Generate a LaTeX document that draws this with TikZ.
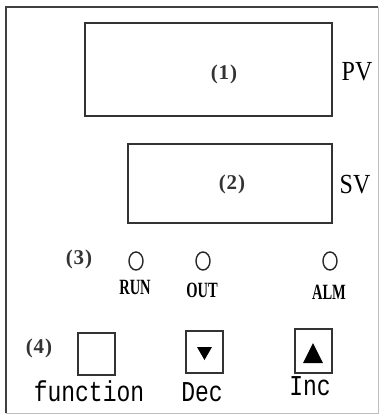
\documentclass[tikz,border=0pt]{standalone}
\usepackage{fontspec}
\setmainfont{Liberation Serif}
\setmonofont{Liberation Mono}
\usepackage{tikz}

\tikzset{
  panel/.style={line width=2pt, black!80},
  lamp/.style={line width=1.4pt, black!85},
  tag/.style={font=\fontsize{21}{21}\selectfont\bfseries, black!80},
  side/.style={font=\fontsize{24}{24}\selectfont, yscale=1.15},
  lamptag/.style={font=\fontsize{14.5}{14.5}\selectfont\bfseries, yscale=1.5},
  keytag/.style={font=\fontsize{23}{23}\selectfont\ttfamily, yscale=1.25},
  key/.style={draw, line width=2pt, black!80, minimum width=37pt, minimum height=42pt, inner sep=0pt}
}

\begin{document}
\begin{tikzpicture}[x=1pt,y=-1pt]
\useasboundingbox (0,0) rectangle (380,416);
\draw[line width=2.2pt, black!75] (6,413) -- (6,7) -- (378,7);
\draw[line width=1pt, black!25] (378,7) -- (378,413) -- (6,413);
\draw[panel] (85,23) rectangle (332,116);
\draw[panel] (128,144) rectangle (332,223);
\node[tag] (pvnum) at (224,74) {(\kern1pt1\kern1pt)};
\node[tag] (svnum) at (232,184) {(\kern1pt2\kern1pt)};
\node[side] (pv) at (357,72) {PV};
\node[side] (sv) at (355,185) {SV};
\node[tag] (lampnum) at (79,259) {(\kern1pt3\kern1pt)};
\draw[lamp] (136,261) ellipse (7 and 9);
\draw[lamp] (203,261) ellipse (7 and 9);
\draw[lamp] (330,261) ellipse (7 and 9);
\node[lamptag] (run) at (135,287) {RUN};
\node[lamptag] (out) at (202,290) {OUT};
\node[lamptag] (alm) at (329,292) {ALM};
\node[tag] (keynum) at (39,348) {(\kern1pt4\kern1pt)};
\node[key] (fn) at (96.5,353.5) {};
\node[key] (dec) at (204,351.5) {};
\node[key, minimum height=44pt] (inc) at (313,350.5) {};
\fill[black] (197,347) -- (212,347) -- (204.5,360) -- cycle;
\fill[black] (303,363) -- (323,363) -- (313,343) -- cycle;
\node[keytag] (fntext) at (89,391) {function};
\node[keytag] (dectext) at (202,392) {Dec};
\node[keytag] (inctext) at (310,386) {Inc};
\end{tikzpicture}
\end{document}
